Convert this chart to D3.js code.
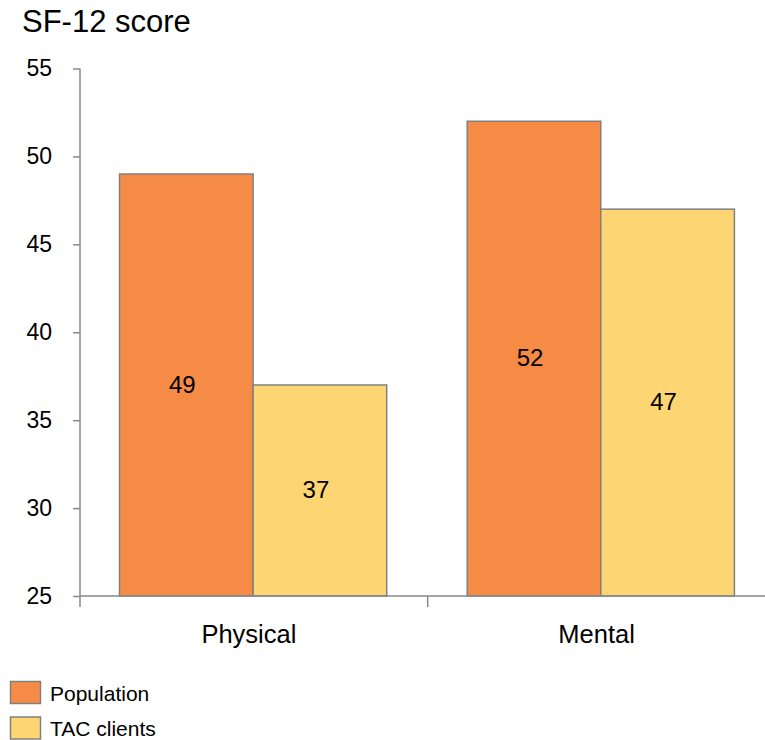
<!DOCTYPE html>
<html>
<head>
<meta charset="utf-8">
<script src="https://cdn.jsdelivr.net/npm/d3@7"></script>
<style>
  html, body { margin: 0; padding: 0; background: #fff; }
  svg { display: block; font-family: "Liberation Sans", Arial, Helvetica, sans-serif; }
</style>
</head>
<body>
<svg id="chart" width="765" height="740"></svg>
<script>
// SF-12 component scores: general population vs TAC clients
const categories = ["Physical", "Mental"];
const seriesNames = ["Population", "TAC clients"];
const populationValues = [49, 52];
const tacClientValues = [37, 47];
const yTicks = [25, 30, 35, 40, 45, 50, 55];
const seriesColors = ["#F58B45", "#FDD673"];

const seriesValues = [populationValues, tacClientValues];
const rows = categories.map((c, i) => ({
  category: c,
  values: seriesNames.map((s, j) => ({ series: s, value: seriesValues[j][i], idx: j }))
}));

const svg = d3.select("#chart");
const axisColor = "#888888";
const barStroke = "#808080";
const fontFamily = "Liberation Sans, Arial, sans-serif";

const x0 = d3.scaleBand().domain(categories).range([80, 775.4]).padding(0);
const step = x0.bandwidth();
const x1 = d3.scaleBand().domain(seriesNames).range([39.5, step - 41]).padding(0);
const y = d3.scaleLinear().domain([25, 55]).range([596, 68.5]);

// Title
svg.append("text")
  .attr("x", 22).attr("y", 32)
  .attr("font-size", 31)
  .attr("fill", "#000")
  .text("SF-12 score");

// Bars
const groups = svg.selectAll("g.group").data(rows).enter().append("g")
  .attr("class", "group")
  .attr("transform", d => `translate(${x0(d.category)},0)`);

groups.selectAll("rect").data(d => d.values).enter().append("rect")
  .attr("x", d => x1(d.series))
  .attr("y", d => y(d.value))
  .attr("width", x1.bandwidth())
  .attr("height", d => y(25) - y(d.value))
  .attr("fill", d => seriesColors[d.idx])
  .attr("stroke", barStroke)
  .attr("stroke-width", 1.5);

// Value labels, centred in each bar
groups.selectAll("text.val").data(d => d.values).enter().append("text")
  .attr("class", "val")
  .attr("x", d => x1(d.series) + x1.bandwidth() / 2 - 4)
  .attr("y", d => (y(d.value) + y(25)) / 2 - 1)
  .attr("text-anchor", "middle")
  .attr("dominant-baseline", "central")
  .attr("font-size", 24)
  .attr("fill", "#000")
  .text(d => d.value);

// Y axis
const yAxis = d3.axisLeft(y).tickValues(yTicks).tickSize(7).tickPadding(21);
const gy = svg.append("g").attr("transform", "translate(80,0)").call(yAxis);
gy.select(".domain").attr("stroke", axisColor).attr("stroke-width", 1.5)
  .attr("d", `M0,${y(55)}V${y(25)}`);
gy.selectAll(".tick line").attr("stroke", axisColor).attr("stroke-width", 1.5);
gy.selectAll(".tick text").attr("font-size", 23).attr("fill", "#000")
  .attr("font-family", fontFamily);

// X axis
const xAxis = d3.axisBottom(x0).tickSize(0).tickPadding(29);
const gx = svg.append("g").attr("transform", `translate(0,${y(25)})`).call(xAxis);
gx.select(".domain").attr("stroke", axisColor).attr("stroke-width", 1.5)
  .attr("d", "M80,0H765");
gx.selectAll(".tick text").attr("font-size", 25.5).attr("fill", "#000")
  .attr("font-family", fontFamily)
  .attr("dx", -5);
// category boundary ticks
const bounds = [x0(categories[0]), x0(categories[1]), x0(categories[1]) + step];
gx.selectAll("line.bound").data(bounds).enter().append("line")
  .attr("class", "bound")
  .attr("x1", d => d).attr("x2", d => d)
  .attr("y1", 0).attr("y2", 11)
  .attr("stroke", axisColor).attr("stroke-width", 1.5);

// Legend
const legend = svg.selectAll("g.legend").data(seriesNames).enter().append("g")
  .attr("class", "legend")
  .attr("transform", (d, i) => `translate(10,${681 + i * 35.5})`);
legend.append("rect")
  .attr("x", 0.5).attr("y", 0.5)
  .attr("width", 30).attr("height", 22)
  .attr("fill", (d, i) => seriesColors[i])
  .attr("stroke", barStroke).attr("stroke-width", 1.5);
legend.append("text")
  .attr("x", 40).attr("y", 12)
  .attr("dominant-baseline", "central")
  .attr("font-size", 21)
  .attr("fill", "#000")
  .text(d => d);
</script>
</body>
</html>
